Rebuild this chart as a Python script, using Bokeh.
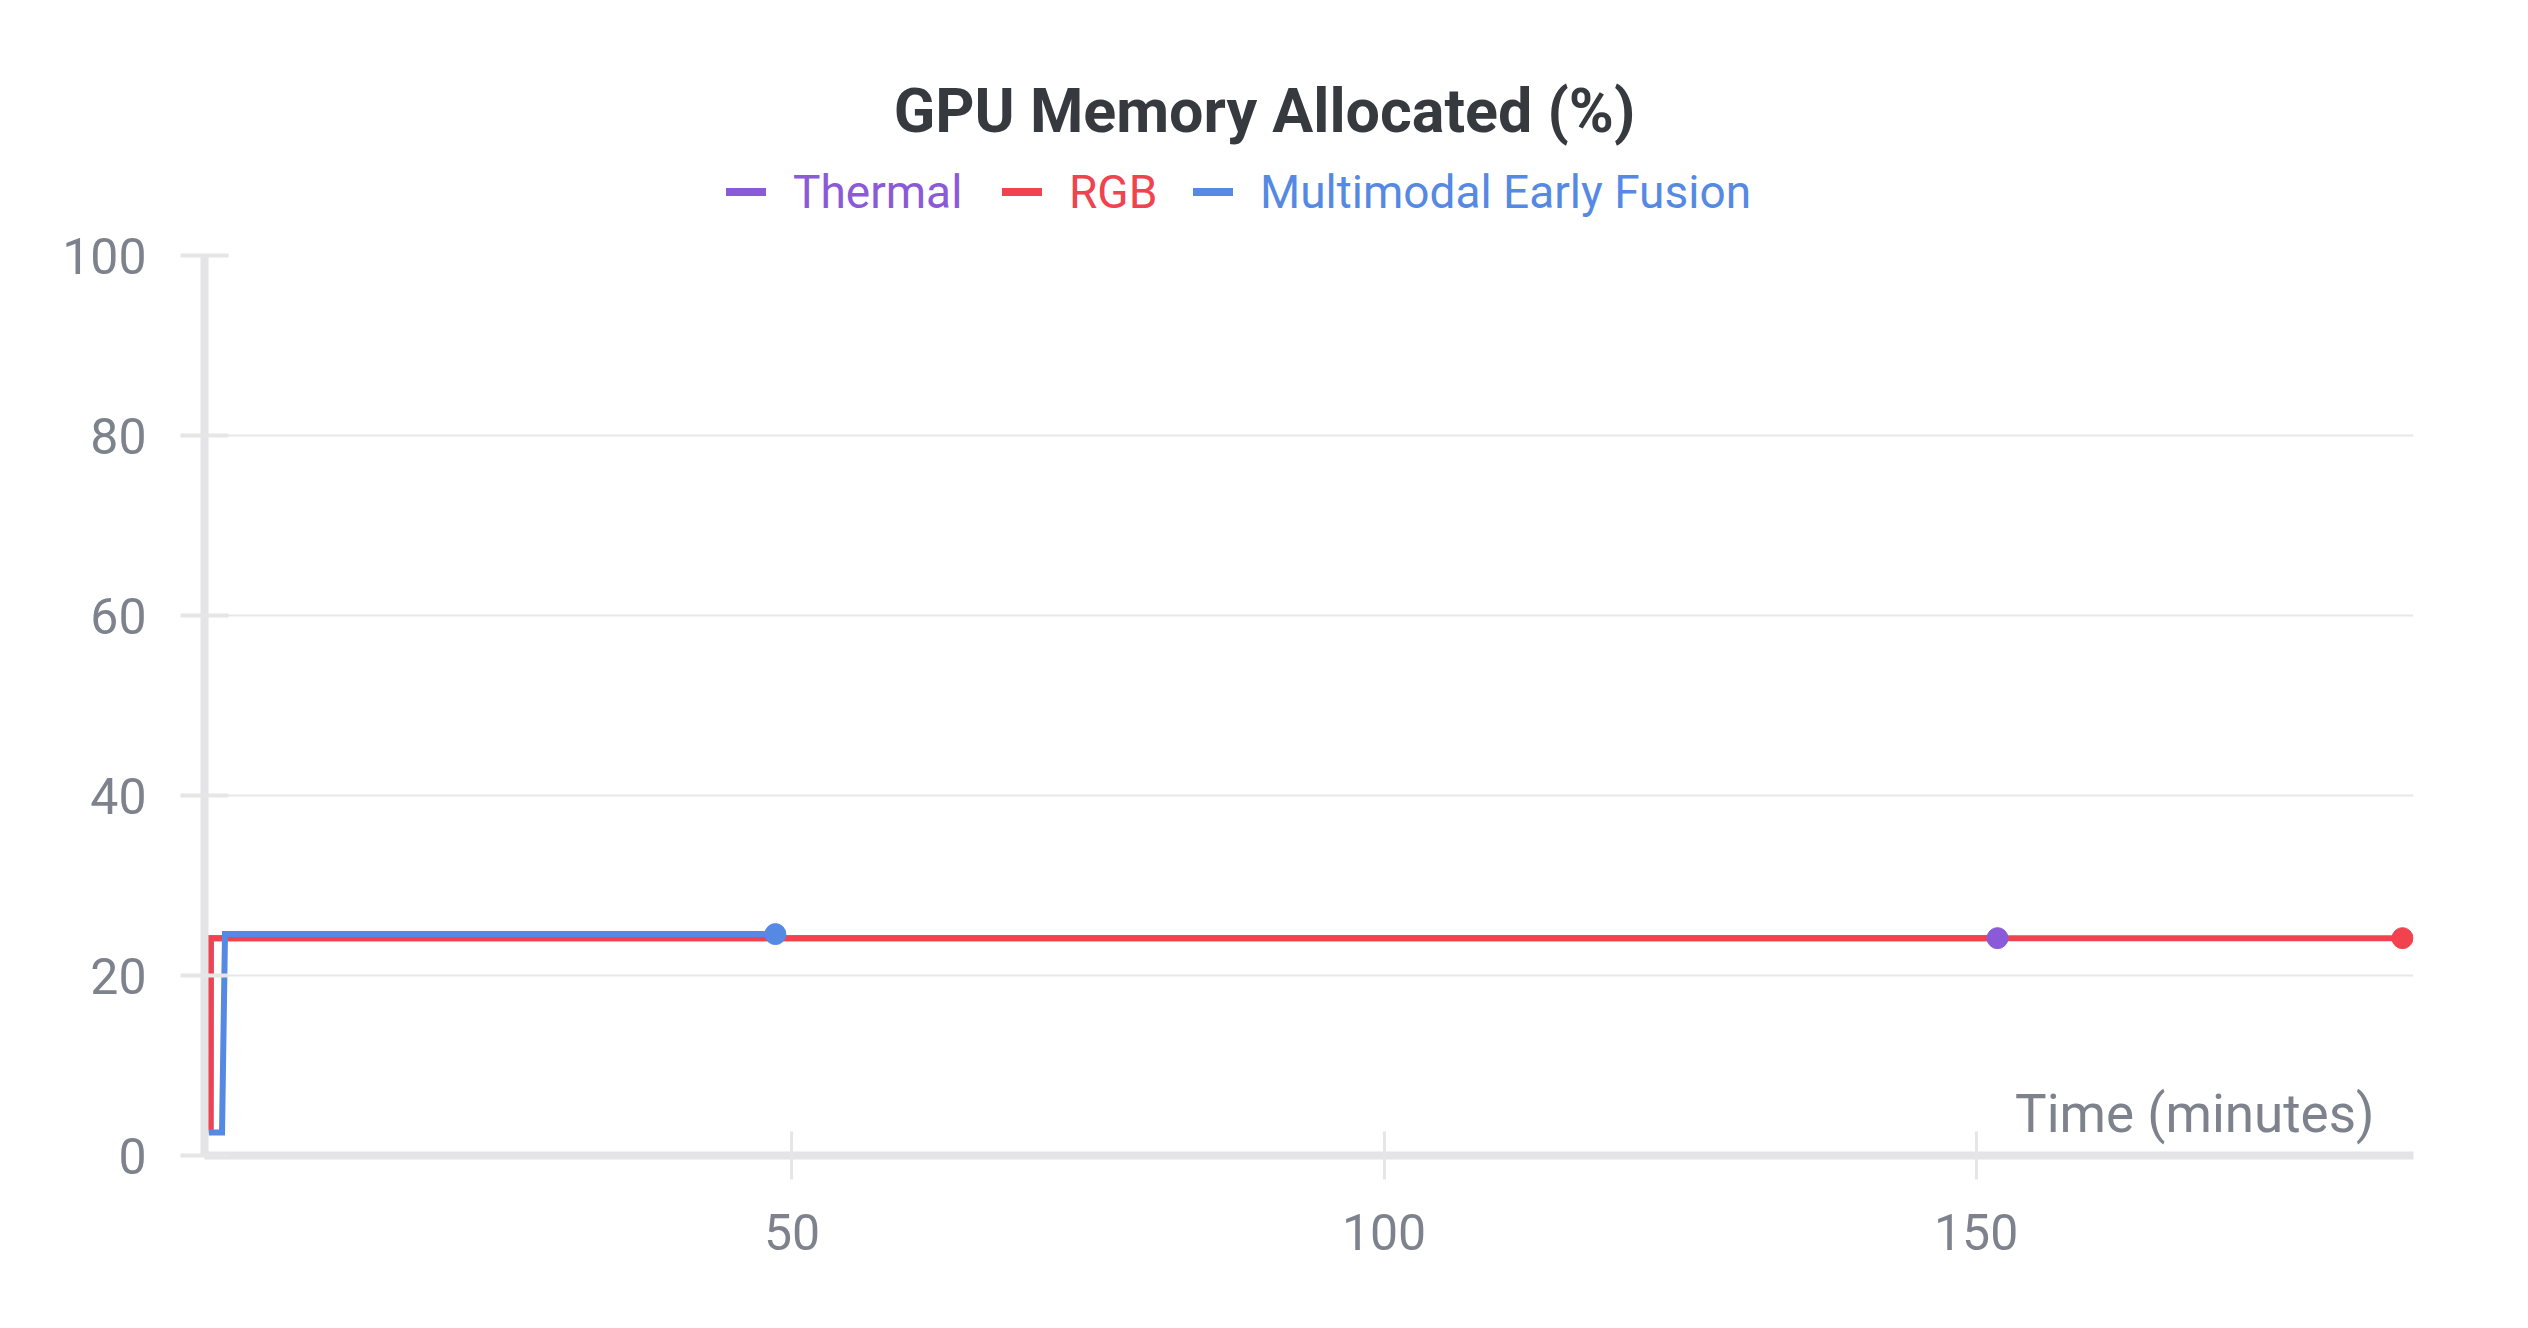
from bokeh.plotting import figure
from bokeh.layouts import column
from bokeh.models import Range1d, Label, Legend, LegendItem, FixedTicker
from bokeh.embed import file_html
from bokeh.resources import INLINE

# ---- data (time in minutes, GPU memory allocated in %) ----
thermal_t = [0.75, 0.90, 0.92, 151.8]
thermal_v = [2.8, 2.8, 24.15, 24.15]
rgb_t = [0.75, 0.90, 0.92, 186.0]
rgb_v = [2.8, 2.8, 24.15, 24.15]
fusion_t = [0.75, 1.87, 2.12, 48.6]
fusion_v = [2.55, 2.55, 24.6, 24.6]

series_names = ["Thermal", "RGB", "Multimodal Early Fusion"]
series_colors = ["#8a5ad8", "#f0434f", "#5589e3"]
x_ticks = [50, 100, 150]
y_ticks = [0, 20, 40, 60, 80, 100]
title_text = "GPU Memory Allocated (%)"
x_title = "Time (minutes)"

FONT = "Roboto"
GRAY = "#7d828c"
W = 2528
HEAD_H = 220
MAIN_H = 1328 - HEAD_H
FRAME_L = 204
FRAME_R = 2413
X_START, X_END = 0.39, 186.93

series = [(thermal_t, thermal_v), (rgb_t, rgb_v), (fusion_t, fusion_v)]

# ---------- header: title + legend (frame aligned with main chart) ----------
head = figure(width=W, height=HEAD_H, output_backend="svg", toolbar_location=None,
              x_range=Range1d(FRAME_L, FRAME_R), y_range=Range1d(0, HEAD_H),
              x_axis_location=None, y_axis_location=None,
              min_border_left=FRAME_L, min_border_right=W - FRAME_R,
              min_border_top=0, min_border_bottom=0)
head.outline_line_color = None
head.xgrid.visible = False
head.ygrid.visible = False
head.background_fill_color = "white"
head.border_fill_color = "white"

head.add_layout(Label(x=W / 2, y=HEAD_H - 110, text=title_text,
                      text_align="center", text_baseline="middle", text_font=FONT,
                      text_font_style="bold", text_font_size="61px", text_color="#363a3f"))

legend_x = [522, 798, 989]
for name, c, lx, (t, v) in zip(series_names, series_colors, legend_x, series):
    r = head.line(t, v, line_color=c, line_width=8, line_cap="round", visible=False)
    leg = Legend(items=[LegendItem(label=name, renderers=[r])],
                 location=(lx, HEAD_H - 192 - 27),
                 orientation="horizontal", padding=0, margin=0, spacing=0,
                 glyph_width=40, glyph_height=55, label_height=55, label_standoff=27,
                 label_text_font=FONT, label_text_font_size="46px", label_text_color=c,
                 background_fill_alpha=0, border_line_alpha=0,
                 inactive_fill_alpha=0)
    head.add_layout(leg)

# ---------- main chart ----------
p = figure(width=W, height=MAIN_H, output_backend="svg", toolbar_location=None,
           x_range=Range1d(X_START, X_END), y_range=Range1d(0, 100),
           min_border_left=FRAME_L, min_border_right=W - FRAME_R,
           min_border_top=255 - HEAD_H, min_border_bottom=173)
p.outline_line_color = None
p.background_fill_color = "white"
p.border_fill_color = "white"

p.xaxis.ticker = FixedTicker(ticks=x_ticks)
p.yaxis.ticker = FixedTicker(ticks=y_ticks)
for ax in (p.xaxis[0], p.yaxis[0]):
    ax.axis_line_color = "#e4e4e7"
    ax.axis_line_width = 8
    ax.major_tick_line_color = "#e6e6e6"
    ax.minor_tick_line_color = None
    ax.major_label_text_font = FONT
    ax.major_label_text_font_size = "50px"
    ax.major_label_text_color = GRAY
    ax.major_tick_in = 24
    ax.major_tick_out = 24
p.yaxis.major_tick_line_width = 4
p.xaxis.major_tick_line_width = 3
p.yaxis.major_label_standoff = 34
p.xaxis.major_label_standoff = 34
p.xgrid.visible = False
p.ygrid.grid_line_color = "#e8e8e8"
p.ygrid.grid_line_width = 2

for (t, v), c in zip(series, series_colors):
    p.line(t, v, line_color=c, line_width=6, line_join="miter")
for (t, v), c in zip(series, series_colors):
    p.scatter([t[-1]], [v[-1]], size=21, color=c)

p.add_layout(Label(x=2170, y=42, x_units="screen", y_units="screen", text=x_title,
                   text_align="right", text_baseline="alphabetic", text_font=FONT,
                   text_font_size="53px", text_color=GRAY))

page = column(head, p, spacing=0)
open("out.html", "w").write(file_html(page, INLINE))
